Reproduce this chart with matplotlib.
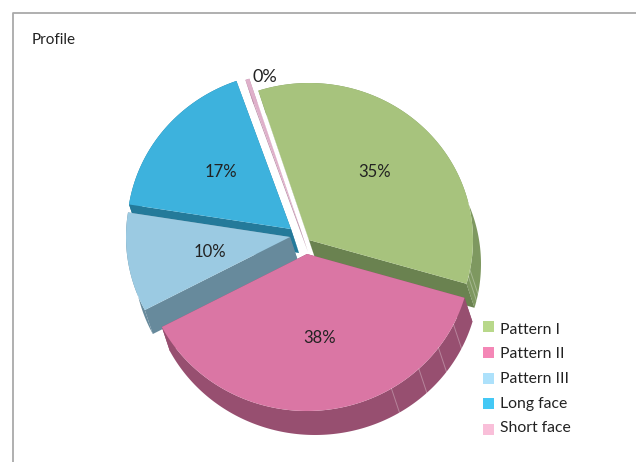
#!/usr/bin/env python3

import numpy as np
import matplotlib
matplotlib.use('Agg')
import matplotlib.pyplot as plt
from matplotlib.patches import Polygon, Rectangle

plt.rcParams['font.family'] = ['Lato', 'DejaVu Sans']

categories = ['Pattern I', 'Pattern II', 'Pattern III', 'Long face', 'Short face']
values = [34.5, 37.8, 10.2, 17.1, 0.4]
title = 'Profile'

legend_colors = ['#b8d88a', '#f487b6', '#ade1fb', '#44c8f5', '#f9bfd9']
top_colors = ['#a7c37d', '#da76a4', '#9bcae2', '#3db2dd', '#dfb0ca']
cut_colors = ['#6a8250', '#974f70', '#678a9c', '#247a9a', '#b98ea6']
rim_colors = ['#7e9860', '#974f70', '#678a9c', '#247a9a', '#b98ea6']

# exploded centre of each slice, in pixels
centers = [(309, 240), (307, 254), (290, 237), (291, 229), (300, 228)]
label_pos = [(375, 172), (320, 338), (210, 252), (221, 172), (265, 77)]
label_size = [12, 12, 12, 12, 13]
rx, ry = 164, 157
depth = (8, 24)
start = -18.0
draw_order = [4, 3, 2, 0, 1]
seams = {0: [101, 103.5], 1: [116.7, 126.7, 137, 149]}


def rim(c, a0, a1, n=120):
    a = np.radians(np.linspace(a0, a1, n))
    return np.column_stack([c[0] + rx * np.sin(a), c[1] - ry * np.cos(a)])


fig = plt.figure(figsize=(6.36, 4.62), dpi=100)
ax = fig.add_axes([0, 0, 1, 1])
ax.set_xlim(0, 636)
ax.set_ylim(462, 0)
ax.axis('off')

ax.plot([12.5, 12.5, 636], [462, 12.5, 12.5], color='#a9a9a9', lw=1.3)

angles = start + np.concatenate([[0], np.cumsum(values)]) * 360 / sum(values)
d = np.array(depth)

for i in draw_order:
    c = np.array(centers[i], dtype=float)
    pts = rim(c, angles[i], angles[i + 1])
    ax.add_patch(Polygon(np.vstack([pts, pts[::-1] + d]), fc=rim_colors[i], ec='none'))
    for end in (pts[0], pts[-1]):
        ax.add_patch(Polygon([c, end, end + d, c + d], fc=cut_colors[i], ec='none'))
    for s in seams.get(i, []):
        p = rim(c, s, s, 1)[0]
        ax.plot([p[0], p[0] + d[0]], [p[1], p[1] + d[1]], color='white', alpha=0.3, lw=0.7)
    ax.add_patch(Polygon(np.vstack([c, pts]), fc=top_colors[i], ec='none'))

for v, (x, y), fs in zip(values, label_pos, label_size):
    ax.text(x, y, f'{np.floor(v + 0.5):.0f}%', ha='center', va='center', fontsize=fs, color='#222222')

ax.text(32, 39.5, title, ha='left', va='center', fontsize=11, color='#222222')

for i, (name, col) in enumerate(zip(categories, legend_colors)):
    ax.add_patch(Rectangle((483, 321 + i * 25.75), 11, 11, fc=col, ec='none'))
    ax.text(500, 329.5 + i * 24.75, name, ha='left', va='center', fontsize=11.3, color='#222222')

fig.savefig('out.png', dpi=100)
